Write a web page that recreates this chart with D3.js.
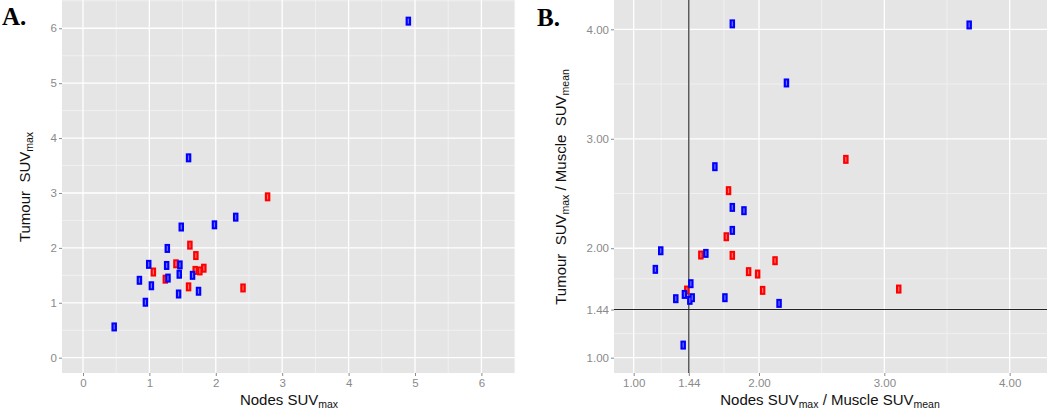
<!DOCTYPE html>
<html>
<head>
<meta charset="utf-8">
<script src="https://cdn.jsdelivr.net/npm/d3@7"></script>
<style>
  html, body { margin: 0; padding: 0; background: #ffffff; }
  svg { display: block; }
</style>
</head>
<body>
<svg id="chart" width="1050" height="412"></svg>
<script>
// ---------- DATA ----------
// Panel A: Nodes SUVmax (x) vs Tumour SUVmax (y)
const aBlueX = [4.90, 1.59, 2.30, 1.98, 1.48, 1.27, 0.99, 1.26, 1.46, 1.45, 1.28, 1.65, 0.85, 1.03, 1.74, 1.44, 0.94, 0.47];
const aBlueY = [6.13, 3.64, 2.56, 2.42, 2.38, 1.99, 1.70, 1.68, 1.69, 1.52, 1.45, 1.50, 1.41, 1.31, 1.21, 1.16, 1.01, 0.56];
const aRedX  = [2.78, 1.61, 1.70, 1.40, 1.06, 1.69, 1.76, 1.82, 1.24, 1.59, 2.41];
const aRedY  = [2.93, 2.05, 1.86, 1.71, 1.56, 1.59, 1.58, 1.63, 1.43, 1.29, 1.27];

// Panel B: Nodes SUVmax/Muscle SUVmean (x) vs Tumour SUVmax/Muscle SUVmean (y)
const bBlueX = [1.787, 3.677, 2.219, 1.648, 1.787, 1.880, 1.787, 1.576, 1.216, 1.173, 1.456, 1.405, 1.336, 1.448, 1.467, 1.728, 2.160, 1.395];
const bBlueY = [4.050, 4.040, 3.510, 2.745, 2.373, 2.343, 2.163, 1.953, 1.977, 1.807, 1.676, 1.578, 1.539, 1.524, 1.548, 1.548, 1.496, 1.115];
const bRedX  = [2.693, 1.757, 1.739, 1.536, 1.787, 2.128, 1.917, 1.989, 2.029, 3.115, 1.424];
const bRedY  = [2.812, 2.526, 2.105, 1.938, 1.935, 1.886, 1.786, 1.764, 1.615, 1.627, 1.618];

// Tick labels
const aTicks = [0, 1, 2, 3, 4, 5, 6];
const aMinor = [0.5, 1.5, 2.5, 3.5, 4.5, 5.5, 6.5];
const bTicks = [1.00, 1.44, 2.00, 3.00, 4.00];
const bMinor = [1.22, 1.72, 2.5, 3.5];
const cutoff = 1.44;

// ---------- DRAWING ----------
const svg = d3.select("#chart");
const FONT = "'Liberation Sans', Arial, Helvetica, sans-serif";
const BLUE = "#0000ff", RED = "#ff0000";

function panel(cfg) {
  const g = svg.append("g");
  const x = d3.scaleLinear().domain(cfg.xDomain).range([cfg.left, cfg.right]);
  const y = d3.scaleLinear().domain(cfg.yDomain).range([cfg.bottom, cfg.top]);

  g.append("rect")
    .attr("x", cfg.left).attr("y", cfg.top)
    .attr("width", cfg.right - cfg.left).attr("height", cfg.bottom - cfg.top)
    .attr("fill", "#e5e5e5");

  // minor grid
  g.selectAll(null).data(cfg.minor.filter(v => v > cfg.xDomain[0] && v < cfg.xDomain[1])).enter()
    .append("line")
    .attr("x1", d => x(d)).attr("x2", d => x(d))
    .attr("y1", cfg.top).attr("y2", cfg.bottom)
    .attr("stroke", "#f2f2f2").attr("stroke-width", 0.9);
  g.selectAll(null).data(cfg.minor.filter(v => v > cfg.yDomain[0] && v < cfg.yDomain[1])).enter()
    .append("line")
    .attr("y1", d => y(d)).attr("y2", d => y(d))
    .attr("x1", cfg.left).attr("x2", cfg.right)
    .attr("stroke", "#f2f2f2").attr("stroke-width", 0.9);
  // major grid
  g.selectAll(null).data(cfg.ticks).enter()
    .append("line")
    .attr("x1", d => x(d)).attr("x2", d => x(d))
    .attr("y1", cfg.top).attr("y2", cfg.bottom)
    .attr("stroke", "#ffffff").attr("stroke-width", 1.3);
  g.selectAll(null).data(cfg.ticks).enter()
    .append("line")
    .attr("y1", d => y(d)).attr("y2", d => y(d))
    .attr("x1", cfg.left).attr("x2", cfg.right)
    .attr("stroke", "#ffffff").attr("stroke-width", 1.3);

  // reference lines
  if (cfg.cut != null) {
    g.append("line")
      .attr("x1", x(cfg.cut)).attr("x2", x(cfg.cut))
      .attr("y1", cfg.top).attr("y2", cfg.bottom)
      .attr("stroke", "#222").attr("stroke-width", 1.1);
    g.append("line")
      .attr("y1", y(cfg.cut)).attr("y2", y(cfg.cut))
      .attr("x1", cfg.left).attr("x2", cfg.right)
      .attr("stroke", "#222").attr("stroke-width", 1.1);
  }

  // axes
  const fmt = cfg.fmt;
  const xAxis = d3.axisBottom(x).tickValues(cfg.ticks).tickFormat(fmt).tickSizeInner(3).tickSizeOuter(0).tickPadding(3);
  const yAxis = d3.axisLeft(y).tickValues(cfg.ticks).tickFormat(fmt).tickSizeInner(3).tickSizeOuter(0).tickPadding(2);
  const gx = g.append("g").attr("transform", `translate(0,${cfg.bottom})`).call(xAxis);
  const gy = g.append("g").attr("transform", `translate(${cfg.left},0)`).call(yAxis);
  [gx, gy].forEach(a => {
    a.select(".domain").remove();
    a.selectAll(".tick line").attr("stroke", "#8a8a8a");
    a.selectAll(".tick text").attr("fill", "#8a8a8a").attr("font-family", FONT).attr("font-size", 11.5);
  });

  // points
  function pts(xs, ys, color) {
    const data = xs.map((v, i) => [v, ys[i]]);
    const pg = g.append("g");
    pg.selectAll(null).data(data).enter().append("rect")
      .attr("x", d => x(d[0]) - 2.75).attr("y", d => y(d[1]) - 4.5)
      .attr("width", 5.5).attr("height", 9)
      .attr("fill", color);
    pg.selectAll(null).data(data).enter().append("rect")
      .attr("x", d => x(d[0]) - 0.6).attr("y", d => y(d[1]) - 2.5)
      .attr("width", 1.2).attr("height", 5)
      .attr("fill", "#ffffff").attr("opacity", 0.45);
  }
  pts(cfg.redX, cfg.redY, RED);
  pts(cfg.blueX, cfg.blueY, BLUE);

  return { g, x, y };
}

const A = panel({
  left: 62, right: 515, top: 0, bottom: 373,
  xDomain: [-0.316, 6.506], yDomain: [-0.279, 6.515],
  ticks: aTicks, minor: aMinor, fmt: d3.format("d"), cut: null,
  blueX: aBlueX, blueY: aBlueY, redX: aRedX, redY: aRedY
});

const B = panel({
  left: 614, right: 1047, top: 0, bottom: 373,
  xDomain: [0.843, 4.298], yDomain: [0.860, 4.268],
  ticks: bTicks, minor: bMinor, fmt: d3.format(".2f"), cut: cutoff,
  blueX: bBlueX, blueY: bBlueY, redX: bRedX, redY: bRedY
});

// ---------- TITLES ----------
function title(parts, x, y, rotate) {
  const t = svg.append("text")
    .attr("font-family", FONT).attr("font-size", 15).attr("fill", "#111")
    .attr("text-anchor", "middle")
    .attr("transform", `translate(${x},${y})` + (rotate ? " rotate(-90)" : ""));
  parts.forEach(p => {
    const s = t.append("tspan").text(p[0]).attr("xml:space", "preserve").style("white-space", "pre");
    if (p[1]) s.attr("font-size", 10.5).attr("dy", 2.5);
    else if (p[2]) s.attr("dy", -2.5);
  });
  return t;
}
title([["Nodes SUV"], ["max", true]], 289, 405, false);
title([["Tumour\u00a0\u00a0SUV"], ["max", true]], 30, 187, true);
title([["Nodes SUV"], ["max", true], [" / Muscle SUV", false, true], ["mean", true]], 830, 405, false);
title([["Tumour\u00a0\u00a0SUV"], ["max", true], [" / Muscle\u00a0\u00a0SUV", false, true], ["mean", true]], 566, 187, true);

// panel letters
svg.append("text").attr("x", 2).attr("y", 25)
  .attr("font-family", "'Liberation Serif', 'Times New Roman', serif").attr("font-weight", "bold")
  .attr("font-size", 25).attr("fill", "#000").text("A.");
svg.append("text").attr("x", 537).attr("y", 26)
  .attr("font-family", "'Liberation Serif', 'Times New Roman', serif").attr("font-weight", "bold")
  .attr("font-size", 25).attr("fill", "#000").text("B.");
</script>
</body>
</html>
